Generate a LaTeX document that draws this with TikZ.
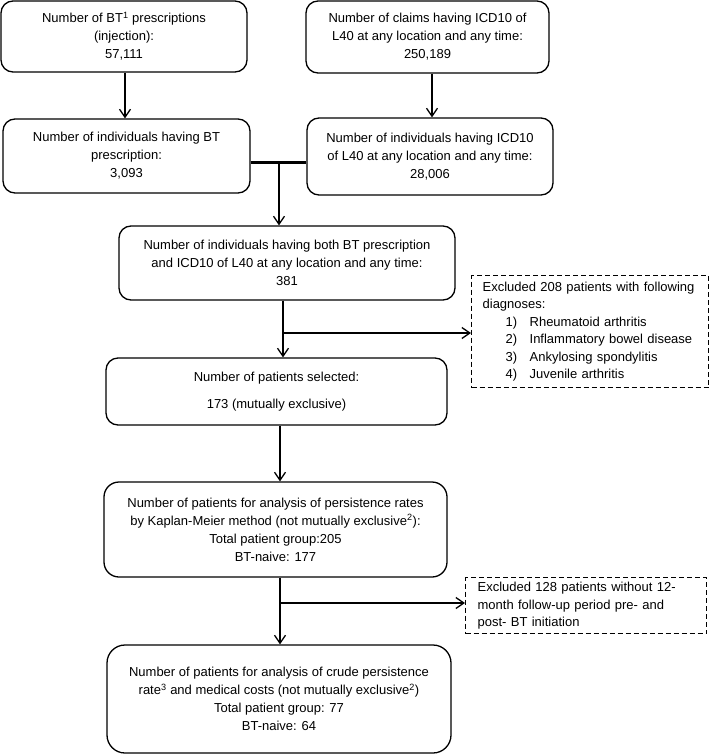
\documentclass[tikz,border=0pt]{standalone}
\usepackage{fontspec}
\setmainfont{Liberation Sans}
\usetikzlibrary{arrows.meta}
\begin{document}
\begin{tikzpicture}[x=1pt,y=-1pt,
  box/.style={draw=black, line width=1.3pt, rounded corners=12pt, align=center, inner sep=0pt, font={\fontsize{13}{18}\selectfont}},
  exbox/.style={draw=black, line width=1.3pt, dash pattern=on 5pt off 3pt, align=left, inner ysep=0pt, font={\fontsize{13}{17.5}\selectfont}},
  arr/.style={line width=1.3pt, -{Straight Barb[length=8pt,width=11pt]}},
  joinline/.style={line width=3pt}]
\useasboundingbox (0,0) rectangle (709,755);
\node[box, minimum width=246pt, minimum height=71pt] (b1) at (124,36.5) {Number of BT\textsuperscript{1} prescriptions\\(injection):\\57,111};
\node[box, minimum width=243pt, minimum height=72pt] (b2) at (427.5,37) {Number of claims having ICD10 of\\L40 at any location and any time:\\250,189};
\node[box, minimum width=247pt, minimum height=74pt] (b3) at (126.5,156) {Number of individuals having BT\\prescription:\\3,093};
\node[box, minimum width=246pt, minimum height=77pt] (b4) at (430,156.5) {Number of individuals having ICD10\\of L40 at any location and any time:\\28,006};
\node[box, minimum width=336pt, minimum height=74pt] (b5) at (287,263) {Number of individuals having both BT prescription\\and ICD10 of L40 at any location and any time:\\381};
\node[box, minimum width=341pt, minimum height=67pt] (b7) at (276.5,391.5) {Number of patients selected:\\[9pt]173 (mutually exclusive)};
\node[box, minimum width=343pt, minimum height=95pt, rounded corners=15pt] (b8) at (275.5,529.5) {Number of patients for analysis of persistence rates\\by Kaplan-Meier method (not mutually exclusive\textsuperscript{2}):\\Total patient group:205\\BT-naive: 177};
\node[box, minimum width=344pt, minimum height=108pt, rounded corners=18pt] (b10) at (279,699) {Number of patients for analysis of crude persistence\\rate\textsuperscript{3} and medical costs (not mutually exclusive\textsuperscript{2})\\Total patient group: 77\\BT-naive: 64};
\node[exbox, anchor=north west, inner xsep=11pt, text width=215pt, minimum height=112pt] (e1) at (471,275) {Excluded 208 patients with following\\diagnoses:\\
\hspace*{23pt}\makebox[24pt][l]{1)}Rheumatoid arthritis\\
\hspace*{23pt}\makebox[24pt][l]{2)}Inflammatory bowel disease\\
\hspace*{23pt}\makebox[24pt][l]{3)}Ankylosing spondylitis\\
\hspace*{23pt}\makebox[24pt][l]{4)}Juvenile arthritis};
\node[exbox, anchor=north west, inner xsep=12pt, text width=217pt, minimum height=56pt] (e2) at (465,577) {Excluded 128 patients without 12-\\month follow-up period pre- and\\post- BT initiation};
\coordinate (a1) at (125,0);
\coordinate (a2) at (432,0);
\draw[arr] (a1 |- b1.south) -- (a1 |- b3.north);
\draw[arr] (a2 |- b2.south) -- (a2 |- b4.north);
\coordinate (j) at (279,162);
\draw[joinline] (b3.east |- j) -- (b4.west |- j);
\draw[arr] (j) -- (j |- b5.north);
\coordinate (k) at (283,333);
\draw[arr] (k |- b5.south) -- (k |- b7.north);
\draw[arr] (k) -- (e1.west |- k);
\coordinate (c) at (280,603);
\draw[arr] (c |- b7.south) -- (c |- b8.north);
\draw[arr] (c |- b8.south) -- (c |- b10.north);
\draw[arr] (c) -- (e2.west |- c);
\end{tikzpicture}
\end{document}
